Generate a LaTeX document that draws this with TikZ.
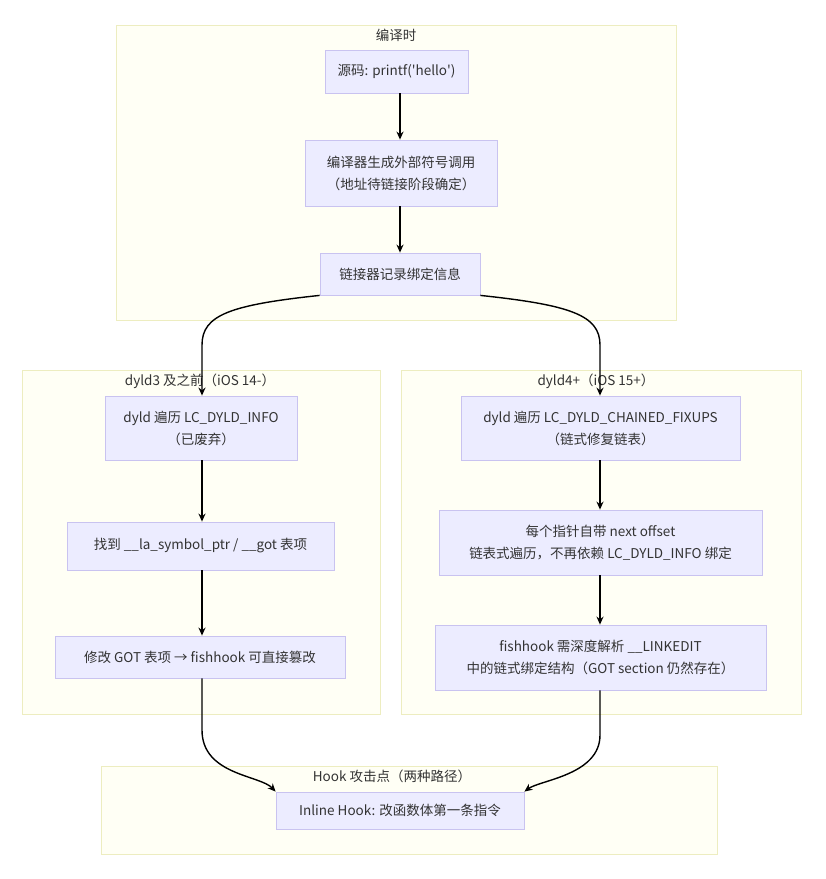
\documentclass[tikz,border=0pt]{standalone}
\usepackage{fontspec}
\setmainfont{Noto Sans CJK SC}
\usetikzlibrary{arrows.meta}
\definecolor{nodefill}{HTML}{ECECFF}
\definecolor{nodeline}{HTML}{C9C3F0}
\definecolor{clfill}{HTML}{FFFFF5}
\definecolor{clline}{HTML}{EDEDC0}
\definecolor{txt}{HTML}{333333}
\begin{document}
\begin{tikzpicture}[x=1pt,y=-1pt,
  box/.style={draw=nodeline,fill=nodefill,line width=0.8pt,text=txt,font=\fontsize{13.5}{22}\selectfont,align=center,inner sep=0pt},
  cl/.style={draw=clline,fill=clfill,line width=0.8pt},
  ttl/.style={text=txt,font=\fontsize{13.5}{16}\selectfont},
  arr/.style={draw=black,line width=1.4pt,-{Stealth[length=8pt,width=7pt]}}]
\useasboundingbox (0,0) rectangle (826,879);
\draw[cl] (116,25) rectangle (676,320);
\draw[cl] (22,370) rectangle (380,714);
\draw[cl] (401,370) rectangle (801,714);
\draw[cl] (101,766) rectangle (717,854);
\node[ttl] (t1) at (396,35) {编译时};
\node[ttl] (t2) at (200,381) {dyld3 及之前（iOS 14-）};
\node[ttl] (t3) at (596,381) {dyld4+（iOS 15+）};
\node[ttl] (t4) at (392,776) {Hook 攻击点（两种路径）};
\node[box,minimum width=143pt,minimum height=43pt] (n1) at (396.5,71.5) {源码: printf(\textquotesingle hello\textquotesingle)};
\node[box,minimum width=192pt,minimum height=66pt] (n2) at (401,173) {编译器生成外部符号调用\\（地址待链接阶段确定）};
\node[box,minimum width=160pt,minimum height=42pt] (n3) at (400,274) {链接器记录绑定信息};
\node[box,minimum width=192pt,minimum height=64pt] (n4) at (201,428) {dyld 遍历 LC\_DYLD\_INFO\\（已废弃）};
\node[box,minimum width=267pt,minimum height=48pt] (n5) at (200.5,546) {找到 \_\_la\_symbol\_ptr / \_\_got 表项};
\node[box,minimum width=290pt,minimum height=42pt] (n6) at (200,657) {修改 GOT 表项 → fishhook 可直接篡改};
\node[box,minimum width=279pt,minimum height=64pt] (n7) at (600.5,428) {dyld 遍历 LC\_DYLD\_CHAINED\_FIXUPS\\（链式修复链表）};
\node[box,minimum width=323pt,minimum height=65pt] (n8) at (600.5,542.5) {每个指针自带 next offset\\链表式遍历，不再依赖 LC\_DYLD\_INFO 绑定};
\node[box,minimum width=331pt,minimum height=65pt] (n9) at (600.5,657.5) {fishhook 需深度解析 \_\_LINKEDIT\\中的链式绑定结构（GOT section 仍然存在）};
\node[box,minimum width=248pt,minimum height=37pt] (n10) at (400,810.5) {Inline Hook: 改函数体第一条指令};
\draw[arr] (n1.south -| 400,0) -- (n2.north -| 400,0);
\draw[arr] (n2.south -| 400,0) -- (n3.north -| 400,0);
\draw[arr] (n3.south west) .. controls (230,305) and (202,315) .. (202,345) -- (n4.north -| 202,0);
\draw[arr] (n3.south east) .. controls (570,305) and (600,315) .. (600,345) -- (n7.north -| 600,0);
\draw[arr] (n4.south -| 202,0) -- (n5.north -| 202,0);
\draw[arr] (n5.south -| 202,0) -- (n6.north -| 202,0);
\draw[arr] (n7.south -| 600,0) -- (n8.north -| 600,0);
\draw[arr] (n8.south -| 600,0) -- (n9.north -| 600,0);
\draw[arr] (n6.south -| 202,0) -- (202,730) .. controls (202,775) and (260,775) .. (n10.north west);
\draw[arr] (n9.south -| 600,0) -- (600,735) .. controls (600,775) and (540,780) .. (n10.north east);
\end{tikzpicture}
\end{document}
